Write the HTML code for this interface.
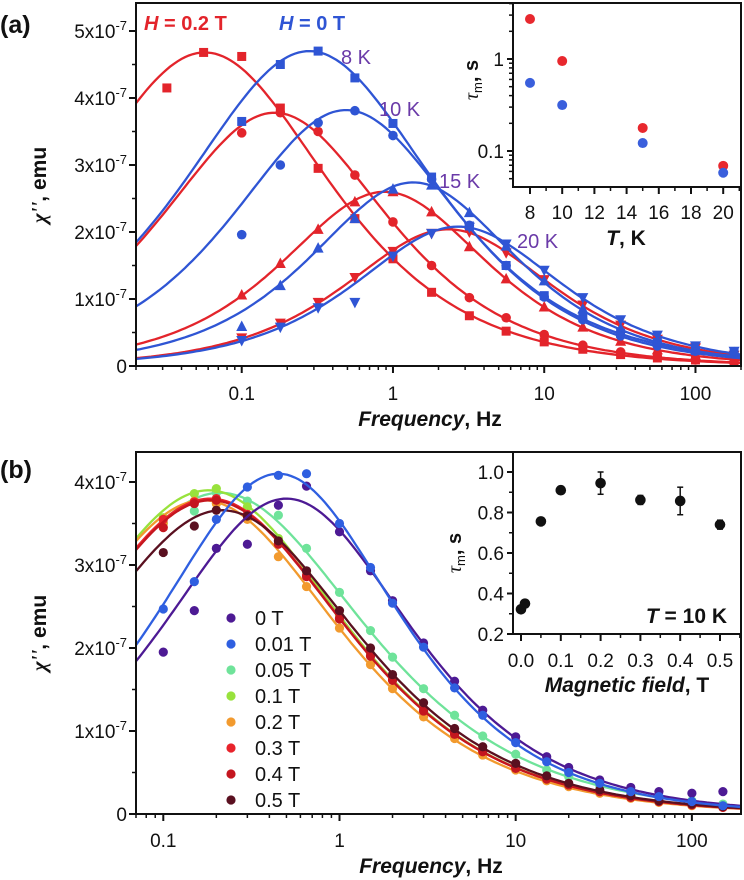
<!DOCTYPE html>
<html><head><meta charset="utf-8"><style>
html,body{margin:0;padding:0;background:#fff;}
svg{display:block;font-family:"Liberation Sans",Arial,sans-serif;}
</style></head><body>
<svg id="fig" width="744" height="880" viewBox="0 0 744 880" xmlns="http://www.w3.org/2000/svg">
<defs>
<clipPath id="clipA"><rect x="137" y="4" width="603" height="361"/></clipPath>
<clipPath id="clipB"><rect x="137" y="453" width="603" height="360"/></clipPath>
</defs>
<g id="panelA"></g>
<g id="panelB"></g>
</svg>
<script>
// ---------- Panel (a) data ----------
const FA = [0.1,0.18,0.32,0.56,1,1.8,3.2,5.6,10,18,32,56,100,180];
const FA_R8 = [0.032,0.056,0.1,0.18,0.32,0.56,1,1.8,3.2,5.6,10,18,32,56,100,180];
const R8 = [4.15,4.68,4.62,3.85,2.95,2.2,1.6,1.1,0.75,0.52,0.36,0.25,0.17,0.12,0.09,0.06];
const R10 = [3.48,3.78,3.5,2.85,2.15,1.5,1.02,0.72,0.47,0.31,0.21,0.13,0.09,0.06];
const R15 = [1.06,1.53,2.04,2.45,2.6,2.3,1.78,1.3,0.88,0.58,0.37,0.24,0.16,0.1];
const R20 = [0.42,0.64,0.95,1.32,1.71,1.98,2.0,1.69,1.29,0.91,0.61,0.4,0.27,0.16];
const B8 = [3.65,4.5,4.7,4.3,3.62,2.82,2.09,1.5,1.05,0.72,0.49,0.35,0.23,0.2];
const B10 = [1.96,3.0,3.63,3.81,3.44,2.79,2.1,1.5,1.03,0.69,0.45,0.3,0.22,0.18];
const B15 = [0.59,1.2,1.76,2.2,2.64,2.7,2.29,1.79,1.27,0.85,0.56,0.36,0.25,0.2];
const B20 = [0.38,0.58,0.87,0.95,1.64,1.98,2.07,1.82,1.43,1.02,0.69,0.46,0.3,0.22];
// fit parameters (peak freq Hz, peak height 1e-7, alpha)
const FIT_A_FP = [0.057,0.165,0.88,2.32,0.28,0.49,1.36,2.7];
const FIT_A_H  = [4.68,3.78,2.6,2.04,4.7,3.82,2.74,2.08];
const FIT_A_AL = [0.3,0.25,0.2,0.2,0.3,0.25,0.2,0.2];
// inset (a)
const TEMPS = [8,10,15,20];
const TAU_H02 = [2.72,0.95,0.178,0.069];
const TAU_H0 = [0.55,0.316,0.122,0.058];
const XT_A = ["0.1","1","10","100"];
const YT_A = [0,1,2,3,4,5];

// ---------- Panel (b) data ----------
const FB = [0.1,0.15,0.2,0.3,0.45,0.65,1,1.5,2,3,4.5,6.5,10,15,20,30,45,65,100,150];
const P0 = [1.95,2.45,3.2,3.25,3.72,3.95,3.4,2.93,2.57,2.06,1.6,1.25,0.93,0.69,0.56,0.41,0.32,0.27,0.25,0.27];
const B01 = [2.47,2.8,3.55,3.94,4.08,4.1,3.5,2.97,2.54,2.01,1.52,1.19,0.86,0.63,0.5,0.37,0.27,0.21,0.15,0.1];
const G05 = [3.51,3.65,3.87,3.77,3.6,3.2,2.67,2.21,1.89,1.51,1.19,0.94,0.72,0.53,0.45,0.34,0.26,0.2,0.16,0.12];
const Y1 = [3.57,3.86,3.92,3.7,3.32,2.92,2.39,1.93,1.63,1.27,0.98,0.77,0.57,0.43,0.35,0.27,0.21,0.15,0.11,0.08];
const O2 = [3.5,3.77,3.74,3.55,3.1,2.74,2.24,1.8,1.51,1.17,0.91,0.71,0.53,0.4,0.33,0.25,0.19,0.14,0.1,0.08];
const R3 = [3.55,3.76,3.8,3.61,3.26,2.88,2.36,1.91,1.62,1.25,0.97,0.76,0.56,0.43,0.35,0.27,0.2,0.15,0.11,0.08];
const R4 = [3.45,3.74,3.78,3.6,3.25,2.86,2.35,1.9,1.61,1.24,0.96,0.75,0.55,0.42,0.35,0.27,0.2,0.15,0.11,0.08];
const M5 = [3.15,3.47,3.66,3.59,3.29,2.93,2.45,2.0,1.68,1.34,1.03,0.81,0.61,0.46,0.37,0.29,0.22,0.16,0.12,0.09];
const FIELDS = ["0 T","0.01 T","0.05 T","0.1 T","0.2 T","0.3 T","0.4 T","0.5 T"];
const FIT_B_FP = [0.5,0.45,0.21,0.18,0.168,0.185,0.186,0.215];
const FIT_B_H  = [3.8,4.1,3.87,3.9,3.78,3.8,3.78,3.66];
const FIT_B_AL = [0.22,0.2,0.3,0.27,0.27,0.27,0.27,0.27];
// inset (b)
const BFIELD = [0,0.01,0.05,0.1,0.2,0.3,0.4,0.5];
const TAU_B = [0.322,0.35,0.756,0.91,0.945,0.862,0.857,0.74];
const TAU_B_ERR = [0.005,0.005,0.008,0.01,0.055,0.022,0.068,0.022];
const YT_B = [0,1,2,3,4];

const NS="http://www.w3.org/2000/svg";
function el(tag, attrs, parent){const e=document.createElementNS(NS,tag);for(const k in attrs)e.setAttribute(k,attrs[k]);parent.appendChild(e);return e;}
function txt(s, attrs, parent){const e=el('text',attrs,parent);e.textContent=s;return e;}
const lg=Math.log10;
function cc(f,fp,H,a){const u=Math.pow(f/fp,1-a);const sn=Math.sin(a*Math.PI/2);return H*u*(2+2*sn)/(1+2*u*sn+u*u);}
const TF=19;

// scales
const xA=f=>136+(lg(f)-lg(0.02))/(lg(200)-lg(0.02))*605;
const yA=v=>366-v*67;
const xB=f=>136+(lg(f)-lg(0.07))/(lg(190)-lg(0.07))*605;
const yB=v=>814-v*83;
const xIa=T=>530+(T-8)*16.1;
const yIa=v=>59-lg(v)*92;
const xIb=B=>521+B*398;
const yIb=v=>634-(v-0.2)*202.5;

function marker(shape,x,y,color,parent){
  let m;
  if(shape==='sq') m=el('rect',{x:x-4.5,y:y-4.5,width:9,height:9,fill:color},parent);
  else if(shape==='ci') m=el('circle',{cx:x,cy:y,r:4.8,fill:color},parent);
  else if(shape==='up') m=el('polygon',{points:`${x},${y-6} ${x-5.5},${y+4.5} ${x+5.5},${y+4.5}`,fill:color},parent);
  else m=el('polygon',{points:`${x},${y+6} ${x-5.5},${y-4.5} ${x+5.5},${y-4.5}`,fill:color},parent);
  return m;
}
function curvePath(xs,ys,fmin,fmax,fp,H,a,n){
  let d='';for(let i=0;i<=n;i++){const f=Math.pow(10,lg(fmin)+(lg(fmax)-lg(fmin))*i/n);d+=(i?'L':'M')+xs(f).toFixed(1)+','+ys(cc(f,fp,H,a)).toFixed(1);}return d;
}
function sciLabel(v,x,y,parent){
  const t=el('text',{x:x,y:y,'text-anchor':'end','font-size':TF,fill:'#111'},parent);
  if(v===0){t.textContent='0';return t;}
  const a=document.createElementNS(NS,'tspan');a.textContent=v+'x10';t.appendChild(a);
  const b=document.createElementNS(NS,'tspan');b.setAttribute('dy','-8');b.setAttribute('font-size','13');b.textContent='-7';t.appendChild(b);
  return t;
}

// ================= PANEL A =================
const PA=document.getElementById('panelA');
const redC='#e3242b', blueC='#2f55d4';
const gA=el('g',{'clip-path':'url(#clipA)'},PA);


const seriesA=[
 {f:FA_R8,v:R8,c:redC,s:'sq',n:'red-8k'},{f:FA,v:R10,c:redC,s:'ci',n:'red-10k'},{f:FA,v:R15,c:redC,s:'up',n:'red-15k'},{f:FA,v:R20,c:redC,s:'dn',n:'red-20k'},
 {f:FA,v:B8,c:blueC,s:'sq',n:'blue-8k'},{f:FA,v:B10,c:blueC,s:'ci',n:'blue-10k'},{f:FA,v:B15,c:blueC,s:'up',n:'blue-15k'},{f:FA,v:B20,c:blueC,s:'dn',n:'blue-20k'}];
seriesA.forEach((S,i)=>{
  const g=el('g',{},gA);
  
  
  S.f.forEach((f,j)=>{const m=marker(S.s,xA(f),yA(S.v[j]),S.c,g);
    
    });
  const p=el('path',{d:curvePath(xA,yA,0.02,200,FIT_A_FP[i],FIT_A_H[i],FIT_A_AL[i],160),fill:'none',stroke:S.c,'stroke-width':2.3},g);
  
  
});
const frA=el('rect',{x:136,y:3,width:605,height:363,fill:'none',stroke:'#111','stroke-width':2},PA);


YT_A.forEach(v=>{el('line',{x1:129,x2:136,y1:yA(v),y2:yA(v),stroke:'#111','stroke-width':2},PA);
  const t=sciLabel(v,127,yA(v)+7,PA);
  
  
  if(v<5) el('line',{x1:132,x2:136,y1:yA(v+0.5),y2:yA(v+0.5),stroke:'#111','stroke-width':1.5},PA);});
for(let e=-2;e<=2;e++){for(let k=1;k<=9;k++){const f=k*Math.pow(10,e);if(f<0.02||f>200)continue;
  const x=xA(f);el('line',{x1:x,x2:x,y1:366,y2:k===1?373:370,stroke:'#111','stroke-width':k===1?2:1.5},PA);}}
XT_A.forEach(s=>{const t=txt(s,{x:xA(parseFloat(s)),y:400,'text-anchor':'middle','font-size':TF,fill:'#111'},PA);
  
  });
let t;
t=txt('(a)',{x:0,y:33,'font-size':25,'font-weight':'bold',fill:'#111'},PA);
t=el('text',{x:430,y:426,'text-anchor':'middle','font-size':21,'font-weight':'bold',fill:'#111'},PA);
t.innerHTML='<tspan font-style="italic">Frequency</tspan>, Hz';

t=el('text',{transform:'translate(46,185) rotate(-90)','text-anchor':'middle','font-size':21,'font-weight':'bold',fill:'#111'},PA);
t.innerHTML='<tspan font-style="italic" font-family="Liberation Serif">χ\'\'</tspan>, emu';

t=el('text',{x:144,y:30,'font-size':20,'font-weight':'bold',fill:redC},PA);t.innerHTML='<tspan font-style="italic">H</tspan> = 0.2 T';

t=el('text',{x:279,y:30,'font-size':20,'font-weight':'bold',fill:blueC},PA);t.innerHTML='<tspan font-style="italic">H</tspan> = 0 T';

[['8 K',341,64],['10 K',379,116],['15 K',439,188],['20 K',517,248]].forEach(a=>{
  const tt=txt(a[0],{x:a[1],y:a[2],'font-size':20,fill:'#6a3aa8'},PA);
  
  });
// inset a
const IA=el('g',{},PA);


el('rect',{x:513,y:3,width:228,height:184,fill:'#fff',stroke:'#111','stroke-width':2},IA);
[[1,'1'],[0.1,'0.1']].forEach(a=>{el('line',{x1:507,x2:513,y1:yIa(a[0]),y2:yIa(a[0]),stroke:'#111','stroke-width':2},IA);
  const tt=txt(a[1],{x:504,y:yIa(a[0])+7,'text-anchor':'end','font-size':TF,fill:'#111'},IA);
  });
[0.05,0.06,0.07,0.08,0.09,0.2,0.3,0.4,0.5,0.6,0.7,0.8,0.9,2,3,4].forEach(v=>{el('line',{x1:509,x2:513,y1:yIa(v),y2:yIa(v),stroke:'#111','stroke-width':1.5},IA);});
for(let T=7;T<=21;T++){const x=xIa(T);if(x<514||x>740)continue;el('line',{x1:x,x2:x,y1:187,y2:T%2===0?194:191,stroke:'#111','stroke-width':T%2===0?2:1.5},IA);
  if(T%2===0){const tt=txt(String(T),{x:x,y:219,'text-anchor':'middle','font-size':TF,fill:'#111'},IA);
  }}
t=el('text',{x:626,y:245,'text-anchor':'middle','font-size':21,'font-weight':'bold',fill:'#111'},IA);t.innerHTML='<tspan font-style="italic">T</tspan>, K';

t=el('text',{transform:'translate(478,80) rotate(-90)','text-anchor':'middle','font-size':20,'font-weight':'bold',fill:'#111'},IA);
t.innerHTML='<tspan font-style="italic" font-family="Liberation Serif" font-weight="normal">τ</tspan><tspan font-size="13" dy="4" font-weight="normal">m</tspan><tspan dy="-4">, s</tspan>';

TEMPS.forEach((T,i)=>{
  const a=el('circle',{cx:xIa(T),cy:yIa(TAU_H02[i]),r:5,fill:'#e8282e'},IA);
  
  const b=el('circle',{cx:xIa(T),cy:yIa(TAU_H0[i]),r:5,fill:'#3a5fdc'},IA);
  });

// ================= PANEL B =================
const PB=document.getElementById('panelB');
const colB=['#4d1a94','#2f5fe0','#6fe39a','#98e23c','#f29a2e','#e8232b','#c4161f','#5a1020'];
const valsB=[P0,B01,G05,Y1,O2,R3,R4,M5];
const gB=el('g',{'clip-path':'url(#clipB)'},PB);


const order=[2,3,4,5,6,7,0,1];
order.forEach(i=>{
  const g=el('g',{},gB);
  
  
  FB.forEach((f,j)=>{const m=el('circle',{cx:xB(f),cy:yB(valsB[i][j]),r:4.6,fill:colB[i]},g);
    
    });
  const p=el('path',{d:curvePath(xB,yB,0.07,190,FIT_B_FP[i],FIT_B_H[i],FIT_B_AL[i],160),fill:'none',stroke:colB[i],'stroke-width':2.3},g);
  
  
});
const frB=el('rect',{x:136,y:452,width:605,height:362,fill:'none',stroke:'#111','stroke-width':2},PB);


YT_B.forEach(v=>{el('line',{x1:129,x2:136,y1:yB(v),y2:yB(v),stroke:'#111','stroke-width':2},PB);
  const tt=sciLabel(v,127,yB(v)+7,PB);
  
  
  if(v<4) el('line',{x1:132,x2:136,y1:yB(v+0.5),y2:yB(v+0.5),stroke:'#111','stroke-width':1.5},PB);});
for(let e=-2;e<=2;e++){for(let k=1;k<=9;k++){const f=k*Math.pow(10,e);if(f<0.07||f>190)continue;
  const x=xB(f);el('line',{x1:x,x2:x,y1:814,y2:k===1?821:818,stroke:'#111','stroke-width':k===1?2:1.5},PB);}}
XT_A.forEach(s=>{const tt=txt(s,{x:xB(parseFloat(s)),y:847,'text-anchor':'middle','font-size':TF,fill:'#111'},PB);
  
  });
t=txt('(b)',{x:0,y:478,'font-size':25,'font-weight':'bold',fill:'#111'},PB);
t=el('text',{x:431,y:873,'text-anchor':'middle','font-size':21,'font-weight':'bold',fill:'#111'},PB);
t.innerHTML='<tspan font-style="italic">Frequency</tspan>, Hz';

t=el('text',{transform:'translate(46,633) rotate(-90)','text-anchor':'middle','font-size':21,'font-weight':'bold',fill:'#111'},PB);
t.innerHTML='<tspan font-style="italic" font-family="Liberation Serif">χ\'\'</tspan>, emu';

// legend
const LG=el('g',{},PB);


FIELDS.forEach((s,i)=>{
  const g=el('g',{},LG);
  
  
  el('circle',{cx:231,cy:618+i*26,r:4.6,fill:colB[i]},g);
  txt(s,{x:255,y:625+i*26,'font-size':20,fill:'#111'},g);});
// inset b
const IB=el('g',{},PB);


el('rect',{x:513,y:452,width:228,height:182,fill:'#fff',stroke:'#111','stroke-width':2},IB);
[0.2,0.4,0.6,0.8,1.0].forEach(v=>{el('line',{x1:507,x2:513,y1:yIb(v),y2:yIb(v),stroke:'#111','stroke-width':2},IB);
  const tt=txt(v.toFixed(1),{x:504,y:yIb(v)+7,'text-anchor':'end','font-size':TF,fill:'#111'},IB);
  });
[0.3,0.5,0.7,0.9].forEach(v=>el('line',{x1:509,x2:513,y1:yIb(v),y2:yIb(v),stroke:'#111','stroke-width':1.5},IB));
for(let k=0;k<=11;k++){const B=k*0.05;const x=xIb(B);el('line',{x1:x,x2:x,y1:634,y2:k%2===0?641:638,stroke:'#111','stroke-width':k%2===0?2:1.5},IB);
  if(k%2===0){const tt=txt(B.toFixed(1),{x:x,y:667,'text-anchor':'middle','font-size':TF,fill:'#111'},IB);
  }}
t=el('text',{x:627,y:692,'text-anchor':'middle','font-size':21,'font-weight':'bold',fill:'#111'},IB);t.innerHTML='<tspan font-style="italic">Magnetic field</tspan>, T';

t=el('text',{x:727,y:623,'text-anchor':'end','font-size':21,'font-weight':'bold',fill:'#111'},IB);t.innerHTML='<tspan font-style="italic">T</tspan> = 10 K';

t=el('text',{transform:'translate(461,553) rotate(-90)','text-anchor':'middle','font-size':20,'font-weight':'bold',fill:'#111'},IB);
t.innerHTML='<tspan font-style="italic" font-family="Liberation Serif" font-weight="normal">τ</tspan><tspan font-size="13" dy="4" font-weight="normal">m</tspan><tspan dy="-4">, s</tspan>';

BFIELD.forEach((B,i)=>{
  const x=xIb(B), y=yIb(TAU_B[i]), e=TAU_B_ERR[i];
  if(e>0.015){el('line',{x1:x,x2:x,y1:yIb(TAU_B[i]+e),y2:yIb(TAU_B[i]-e),stroke:'#111','stroke-width':1.5},IB);
    el('line',{x1:x-3,x2:x+3,y1:yIb(TAU_B[i]+e),y2:yIb(TAU_B[i]+e),stroke:'#111','stroke-width':1.5},IB);
    el('line',{x1:x-3,x2:x+3,y1:yIb(TAU_B[i]-e),y2:yIb(TAU_B[i]-e),stroke:'#111','stroke-width':1.5},IB);}
  const c=el('circle',{cx:x,cy:y,r:5.3,fill:'#111'},IB);
  
  });
</script>
</body></html>
